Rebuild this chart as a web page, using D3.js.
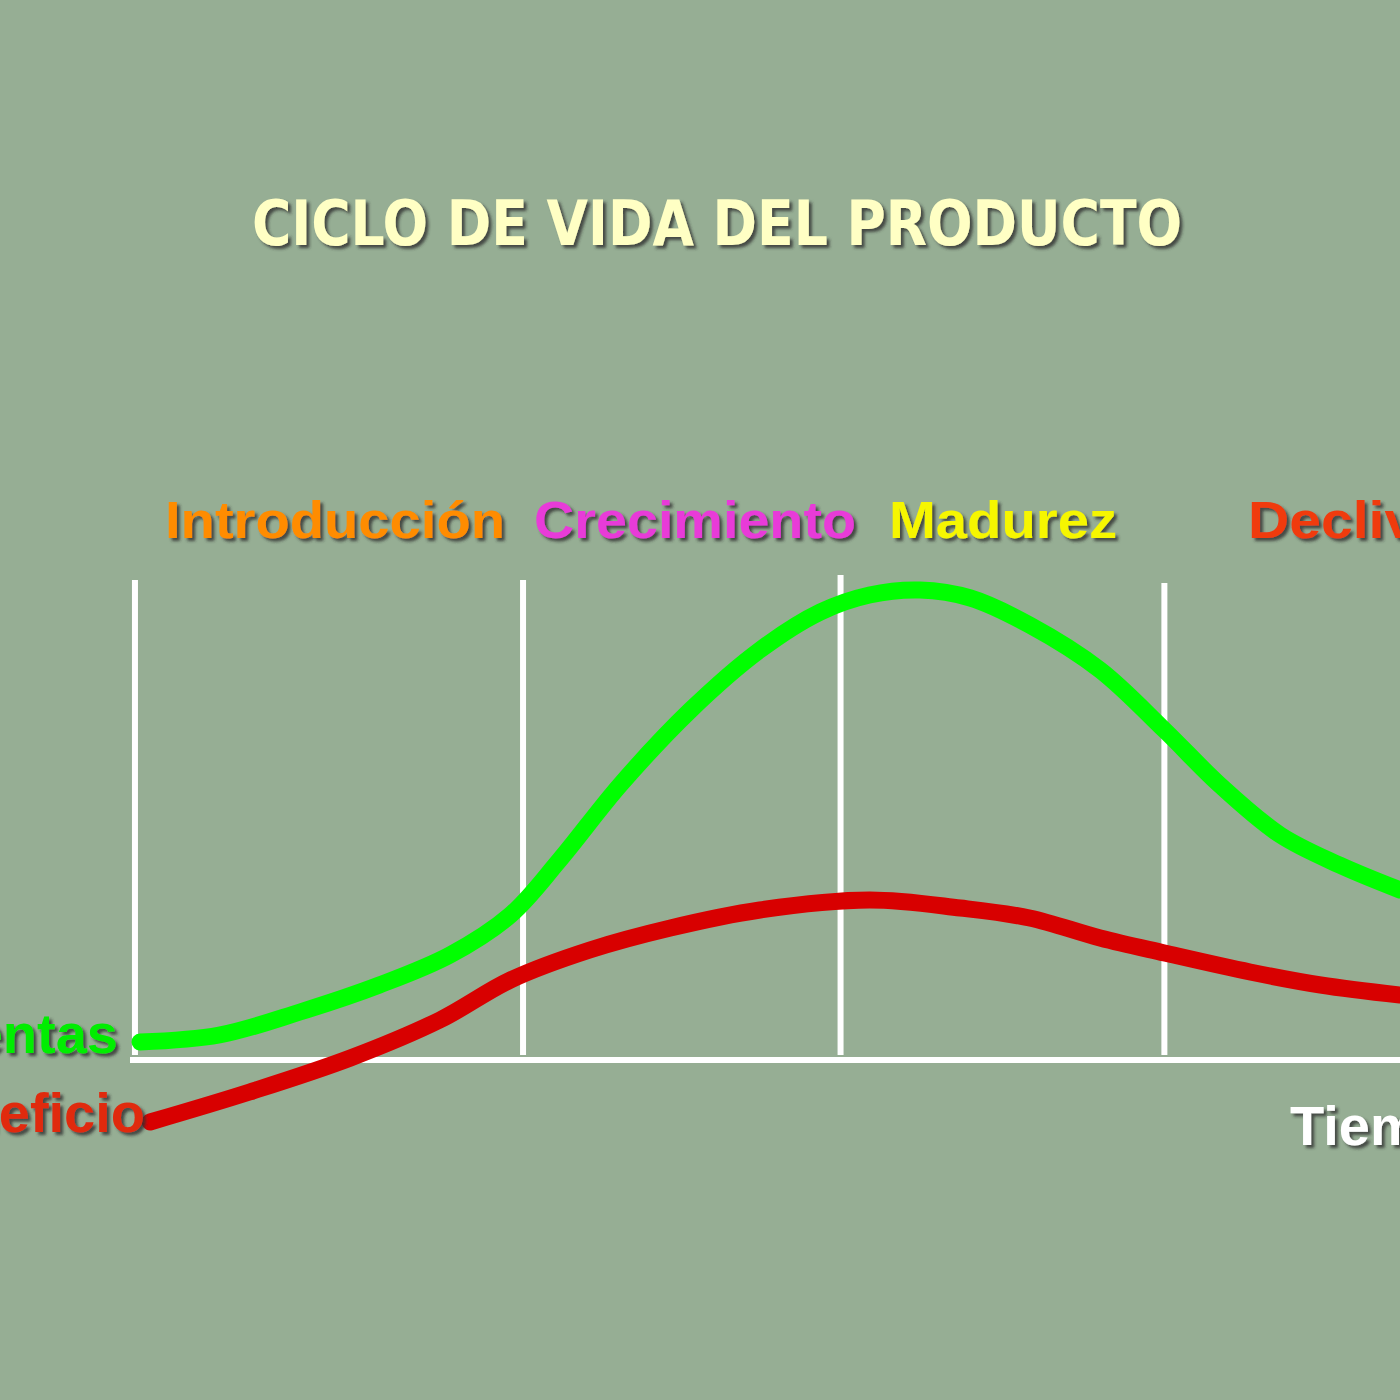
<!DOCTYPE html>
<html><head><meta charset="utf-8">
<script src="https://cdn.jsdelivr.net/npm/d3@7"></script>
<style>body{margin:0;background:#96ae94}</style></head>
<body><div id="chart"></div>
<script>
// time 0..10, level 0..100
const salesT = [0, 0.63, 1.27, 1.9, 2.46, 2.94, 3.33, 3.81, 4.37, 4.92, 5.4, 5.79, 6.19, 6.59, 7.06, 7.62, 8.13, 8.57, 9.05, 9.52, 10];
const salesV = [3.6, 5, 9.6, 15, 21, 29, 40, 55, 70, 82, 89.6, 93, 94, 92.4, 87, 78, 66, 55, 45, 39, 34];
const profitT = [0.08, 0.87, 1.67, 2.38, 2.94, 3.57, 4.21, 4.92, 5.79, 6.51, 7.06, 7.62, 8.13, 8.81, 9.37, 10];
const profitV = [-12.4, -6.4, 0.4, 8, 16, 22, 26.4, 30, 32, 30.4, 28.4, 24.4, 21.4, 17.6, 15, 13];
const stageBounds = [-0.04, 3.04, 5.56, 8.13];
const stages = ["Introducción", "Crecimiento", "Madurez", "Declive"];
const stageColors = ["#ff8c00", "#e83ad8", "#f6f600", "#f03a10"];

const W = 1400, H = 1400;
const x = d3.scaleLinear().domain([0, 10]).range([140, 1400]);
const y = d3.scaleLinear().domain([0, 100]).range([1060, 560]);

const svg = d3.select("#chart").append("svg").attr("width", W).attr("height", H);
svg.append("rect").attr("width", W).attr("height", H).attr("fill", "#96ae94");
const defs = svg.append("defs");
defs.append("filter").attr("id", "sh").append("feDropShadow")
  .attr("dx", 3).attr("dy", 3).attr("stdDeviation", 1.5).attr("flood-color", "#333").attr("flood-opacity", 0.8);

svg.append("text").attr("x", 717).attr("y", 245).attr("text-anchor", "middle")
  .attr("font-family", "DejaVu Sans Condensed, DejaVu Sans").attr("font-stretch", "condensed")
  .attr("font-weight", "bold")
  .attr("font-size", 62).attr("fill", "#ffffc4").attr("filter", "url(#sh)")
  .attr("textLength", 930).attr("lengthAdjust", "spacingAndGlyphs")
  .text("CICLO DE VIDA DEL PRODUCTO");

// stage labels
const labelX = [335, 695, 1003, 1248];
const labelW = [340, 322, 228, 200];
svg.selectAll(".stage").data(stages).join("text")
  .attr("x", (d, i) => labelX[i]).attr("y", 538)
  .attr("text-anchor", (d, i) => i === 3 ? "start" : "middle")
  .attr("font-family", "Liberation Sans, Arial").attr("font-weight", "bold").attr("font-size", 52)
  .attr("textLength", (d, i) => labelW[i]).attr("lengthAdjust", "spacingAndGlyphs")
  .attr("fill", (d, i) => stageColors[i]).attr("filter", "url(#sh)")
  .text(d => d);

// stage dividers
svg.selectAll(".div").data(stageBounds).join("line")
  .attr("x1", d => x(d)).attr("x2", d => x(d))
  .attr("y1", (d, i) => [580, 580, 575, 583][i]).attr("y2", 1055)
  .attr("stroke", "#fff").attr("stroke-width", 6);

// time axis
svg.append("line").attr("x1", 130).attr("x2", 1400).attr("y1", y(0)).attr("y2", y(0))
  .attr("stroke", "#fff").attr("stroke-width", 6);

const line = d3.line().curve(d3.curveCatmullRom).x(d => x(d[0])).y(d => y(d[1]));
svg.append("path").datum(d3.zip(salesT, salesV)).attr("d", line)
  .attr("fill", "none").attr("stroke", "#00ff00").attr("stroke-width", 17).attr("stroke-linecap", "round");
svg.append("path").datum(d3.zip(profitT, profitV)).attr("d", line)
  .attr("fill", "none").attr("stroke", "#d80000").attr("stroke-width", 17).attr("stroke-linecap", "round");

const lab = (t, px, py, c, anchor) => svg.append("text").attr("x", px).attr("y", py)
  .attr("text-anchor", anchor).attr("font-family", "Liberation Sans, Arial").attr("font-weight", "bold")
  .attr("font-size", 56).attr("fill", c).attr("filter", "url(#sh)").text(t);
lab("Ventas", 118, 1053, "#00ee00", "end");
lab("Beneficio", 145, 1132, "#e02a10", "end");
lab("Tiempo", 1290, 1145, "#ffffff", "start");
</script></body></html>
